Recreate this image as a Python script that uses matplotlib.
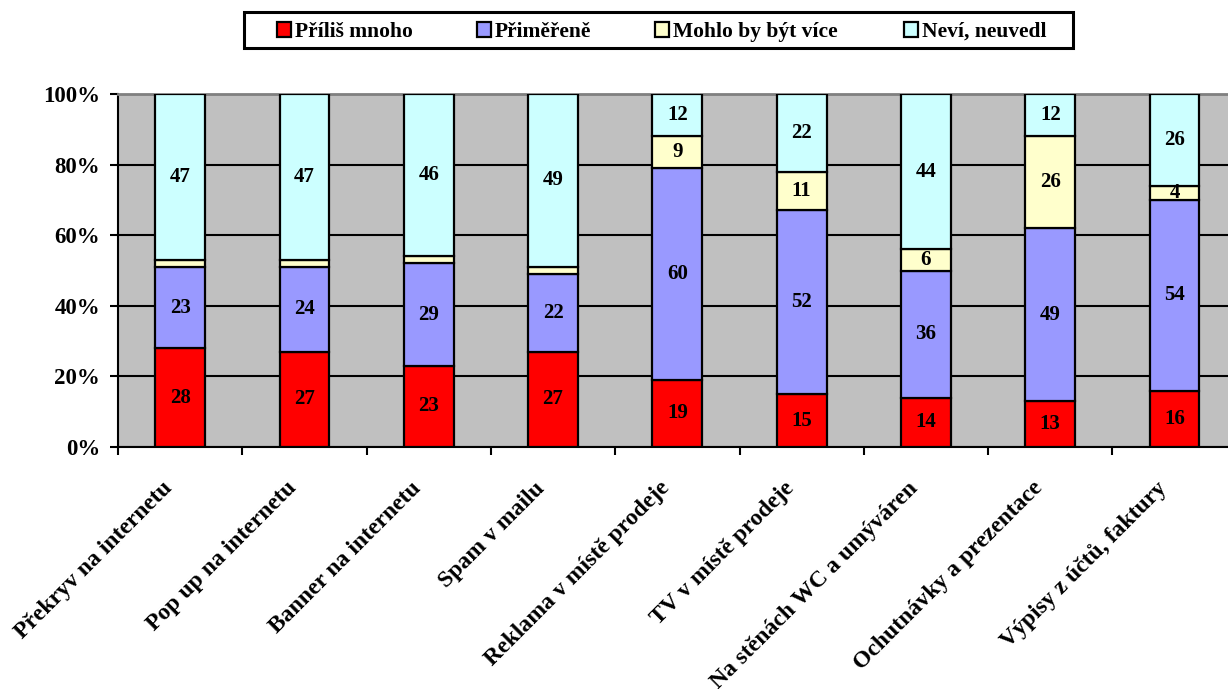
import matplotlib
matplotlib.use("Agg")
import matplotlib.pyplot as plt
from matplotlib.patches import Rectangle
from matplotlib.ticker import FixedLocator, FuncFormatter
from matplotlib.transforms import ScaledTranslation
import numpy as np

plt.rcParams['font.family'] = ['Liberation Serif', 'DejaVu Serif']
plt.rcParams['font.weight'] = 'bold'

categories = [
    "Překryv na internetu",
    "Pop up na internetu",
    "Banner na internetu",
    "Spam v mailu",
    "Reklama v místě prodeje",
    "TV v místě prodeje",
    "Na stěnách WC a umýváren",
    "Ochutnávky a prezentace",
    "Výpisy z účtů, faktury",
]
series_names = ["Příliš mnoho", "Přiměřeně", "Mohlo by být více", "Neví, neuvedl"]
too_much = [28, 27, 23, 27, 19, 15, 14, 13, 16]
adequate = [23, 24, 29, 22, 60, 52, 36, 49, 54]
could_be_more = [2, 2, 2, 2, 9, 11, 6, 26, 4]
dont_know = [47, 47, 46, 49, 12, 22, 44, 12, 26]
colors = ["#FF0000", "#9999FF", "#FFFFCC", "#CCFFFF"]

W, H = 1228, 689
fig = plt.figure(figsize=(W / 100, H / 100), dpi=100)
left, right, top, bottom = 118, 118 + 9 * 124.3, 94, 447
ax = fig.add_axes([left / W, 1 - bottom / H, (right - left) / W, (bottom - top) / H])
ax.set_facecolor("#C0C0C0")

x = np.arange(len(categories))
data = [too_much, adequate, could_be_more, dont_know]
totals = np.sum(data, axis=0)
base = np.zeros(len(categories))
for vals, col, name in zip(data, colors, series_names):
    pct = np.array(vals) / totals * 100
    ax.bar(x, pct, bottom=base, width=0.4, color=col, edgecolor="black",
           linewidth=1.6, label=name, zorder=3)
    for xi, b, p, v in zip(x, base, pct, vals):
        if v >= 3:
            ax.text(xi, b + p / 2, str(v), ha="center", va="center",
                    fontsize=15, fontweight="bold", color="black", zorder=4)
    base = base + pct

ax.set_xlim(-0.5, len(categories) - 0.5)
ax.set_ylim(0, 100)

# y axis: percentage scale with black gridlines
ax.set_yticks(np.arange(0, 101, 20))
ax.yaxis.set_major_formatter(FuncFormatter(lambda v, p: f"{int(v)}%"))
ax.yaxis.grid(True, color="black", linewidth=1.5, zorder=1)
ax.tick_params(axis="y", direction="out", length=6, width=1.5, labelsize=16.5, pad=7)

# x axis: ticks between categories, labels at bar centres
ax.xaxis.set_major_locator(FixedLocator(np.arange(-0.5, len(categories), 1.0)))
ax.xaxis.set_major_formatter(FuncFormatter(lambda v, p: ""))
ax.xaxis.set_minor_locator(FixedLocator(x))
labels = ax.set_xticklabels(categories, minor=True, rotation=45, ha="right", va="center",
                            rotation_mode="anchor", fontsize=17, fontweight="bold")
ax.tick_params(axis="x", which="major", direction="out", length=6, width=1.5)
ax.tick_params(axis="x", which="minor", length=0, pad=26)
shift = ScaledTranslation(-11 / 100, -2 / 100, fig.dpi_scale_trans)
for lab in ax.get_xticklabels(minor=True):
    lab.set_transform(lab.get_transform() + shift)

for s in ["left", "bottom"]:
    ax.spines[s].set_color("black")
    ax.spines[s].set_linewidth(1.5)
ax.spines["top"].set_color("#808080")
ax.spines["top"].set_linewidth(2)
ax.spines["right"].set_visible(False)
ax.set_axisbelow(True)

# legend box across the top
def fx(px):
    return px / W

def fy(py):
    return 1 - py / H

fig.add_artist(Rectangle((fx(244), fy(47.5)), fx(1073) - fx(244), fy(12.5) - fy(47.5),
                         transform=fig.transFigure, facecolor="white",
                         edgecolor="black", linewidth=2.2))
handle_x = [277, 477, 655, 904]
for hx, col, name in zip(handle_x, colors, series_names):
    fig.add_artist(Rectangle((fx(hx), fy(36.5)), fx(hx + 14) - fx(hx), fy(22) - fy(36.5),
                             transform=fig.transFigure, facecolor=col,
                             edgecolor="black", linewidth=1.6))
    fig.text(fx(hx + 18), fy(29.5), name, ha="left", va="center_baseline",
             fontsize=15.5, fontweight="bold")

fig.savefig("out.png", dpi=100)
